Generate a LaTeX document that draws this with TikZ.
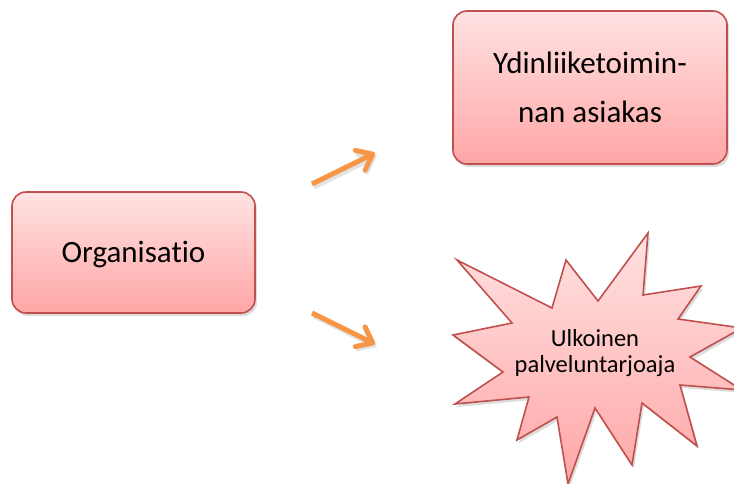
\documentclass[tikz,border=0pt]{standalone}
\usepackage{fontspec}
\setmainfont{Carlito}[RawFeature={-liga;-clig;-dlig}]
\usetikzlibrary{arrows.meta,shadows}
\definecolor{boxtop}{RGB}{255,226,226}
\definecolor{boxbot}{RGB}{255,166,166}
\definecolor{boxline}{RGB}{192,80,77}
\definecolor{arrowc}{RGB}{247,150,70}
\begin{document}
\begin{tikzpicture}[x=1pt,y=-1pt,
  shapestyle/.style={draw=boxline, line width=1.6pt, top color=boxtop, bottom color=boxbot,
    drop shadow={opacity=0.28, shadow xshift=2pt, shadow yshift=-3pt}},
  box/.style={shapestyle, rounded corners=14pt, inner sep=0pt, align=center, text=black},
  flow/.style={draw=arrowc, line width=5pt, -{Straight Barb[length=14pt,width=22pt,line cap=round,line join=round]}},
  flowshadow/.style={draw=black!60, opacity=0.18, line width=5pt, -{Straight Barb[length=14pt,width=22pt]}, transform canvas={xshift=2pt,yshift=-3pt}}
]
\useasboundingbox (0,0) rectangle (734,483);
\clip (0,0) rectangle (734,483);

\node[box, minimum width=243pt, minimum height=121pt, font=\fontsize{31}{38}\selectfont, text depth=2pt]
  (org) at (133.5,252.5) {Organisatio};

\node[box, minimum width=274pt, minimum height=153pt, font=\fontsize{31}{49}\selectfont]
  (ydin) at (590,87.5) {Ydinliiketoimin-\\nan asiakas};

\draw[shapestyle, line join=miter]
  (457,260) -- (552,308) -- (566,260) -- (598,301) -- (648,233) -- (643,295)
  -- (701,286) -- (678,319) -- (742,328) -- (690,357) -- (742,390) -- (680,385)
  -- (697,446) -- (642,403) -- (632,465) -- (595,408) -- (568,484) -- (557,417)
  -- (517,440) -- (529,397) -- (455,404) -- (503,372) -- (453,335) -- (512,323) -- cycle;
\node[align=center, inner sep=0pt, font=\fontsize{24.5}{25.5}\selectfont]
  (star) at (595,353) {Ulkoinen\\palveluntarjoaja};

\coordinate (a1s) at (312,184);
\coordinate (a1e) at (375,153);
\coordinate (a2s) at (312,313);
\coordinate (a2e) at (375,344);
\draw[flowshadow] (a1s) -- (a1e);
\draw[flowshadow] (a2s) -- (a2e);
\draw[flow] (a1s) -- (a1e);
\draw[flow] (a2s) -- (a2e);
\end{tikzpicture}
\end{document}
